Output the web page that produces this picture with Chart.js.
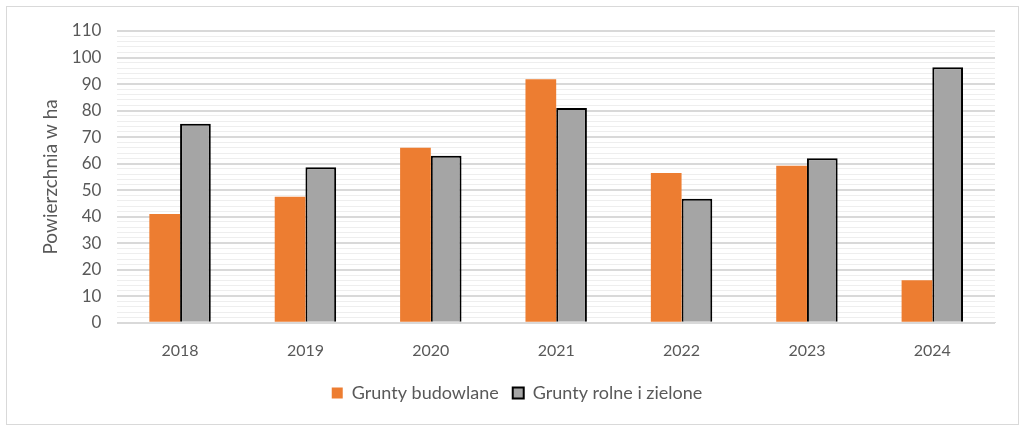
<!DOCTYPE html>
<html>
<head>
<meta charset="utf-8">
<script src="https://cdn.jsdelivr.net/npm/chart.js@4"></script>
<style>
  html, body { margin: 0; padding: 0; background: #fff; }
  .frame { position: absolute; left: 6px; top: 6px; width: 1011px; height: 417px; border: 1px solid #d9d9d9; }
  .wrap { position: absolute; left: 0; top: 0; width: 1024px; height: 432px; }
</style>
</head>
<body>
<div class="frame"></div>
<div class="wrap"><canvas class="area-chart"></canvas></div>
<script>
// area chart

const years = ["2018", "2019", "2020", "2021", "2022", "2023", "2024"];
const budowlane = [41, 47.5, 66, 91.8, 56.5, 59.2, 16];
const rolne = [75, 58.6, 63, 81, 46.8, 62, 96.3];
const yTicks = [0, 10, 20, 30, 40, 50, 60, 70, 80, 90, 100, 110];

document.addEventListener("DOMContentLoaded", () => {
  const ctx = document.querySelector(".area-chart").getContext("2d");

  const data = {
    labels: years,
    datasets: [
      {
        label: "Grunty budowlane",
        data: budowlane,
        backgroundColor: "#ED7D31",
        borderWidth: 0,
      },
      {
        label: "Grunty rolne i zielone",
        data: rolne,
        backgroundColor: "#A5A5A5",
        borderColor: "#000000",
        borderWidth: 2,
      },
    ],
  };

  const config = {
    type: "bar",
    data: data,
    options: {
      responsive: true,
      maintainAspectRatio: false,
      animation: false,
      layout: {
        padding: { left: 39, right: 29, top: 31, bottom: 20 },
      },
      datasets: {
        bar: { barPercentage: 1, categoryPercentage: 0.49 },
      },
      scales: {
        x: {
          grid: { display: false },
          border: { color: "#d9d9d9", width: 1 },
          ticks: {
            color: "#595959",
            font: { family: "Lato", size: 16 },
            padding: 10,
          },
        },
        y: {
          min: 0,
          max: yTicks[yTicks.length - 1],
          border: { display: false },
          grid: {
            drawTicks: false,
            color: (c) => (c.tick && c.tick.value % 10 === 0 ? "#d9d9d9" : "#eeeeee"),
            lineWidth: (c) => (c.tick && c.tick.value % 10 === 0 ? 2 : 1),
          },
          ticks: {
            stepSize: 2,
            maxTicksLimit: 100,
            autoSkip: false,
            color: "#595959",
            font: { family: "Lato", size: 17 },
            padding: 16,
            callback: (v) => (yTicks.includes(v) ? String(v) : ""),
          },
          title: {
            display: true,
            text: "Powierzchnia w ha",
            color: "#595959",
            font: { family: "Lato", size: 19 },
            padding: { top: 0, bottom: -6 },
          },
        },
      },
      plugins: {
        legend: {
          position: "bottom",
          labels: {
            color: "#595959",
            font: { family: "Lato", size: 18 },
            boxWidth: 11,
            boxHeight: 11,
            padding: 14,
          },
        },
        tooltip: { enabled: false },
      },
    },
  };

  new Chart(ctx, config);
});
</script>
</body>
</html>
